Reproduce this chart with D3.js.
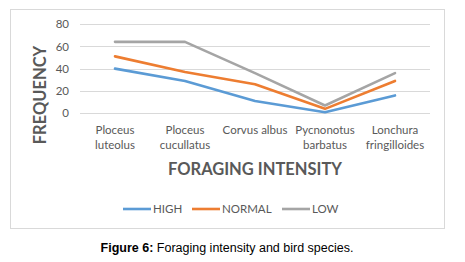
<!DOCTYPE html>
<html>
<head>
<meta charset="utf-8">
<script src="https://cdn.jsdelivr.net/npm/d3@7"></script>
<style>
  body { margin: 0; background: #fff; }
  text { font-family: Lato, "Open Sans", sans-serif; }
</style>
</head>
<body>
<script>
// Data
var species = [["Ploceus", "luteolus"], ["Ploceus", "cucullatus"], ["Corvus albus"], ["Pycnonotus", "barbatus"], ["Lonchura", "fringilloides"]];
var high = [40, 29, 11, 1, 16];
var normal = [51, 37, 26, 4, 29];
var low = [64, 64, 36, 7, 36];
var yTicks = [0, 20, 40, 60, 80];
var seriesNames = ["HIGH", "NORMAL", "LOW"];
var colors = ["#5B9BD5", "#ED7D31", "#A5A5A5"];

var W = 465, H = 262;
var svg = d3.select("body").append("svg")
    .attr("width", W)
    .attr("height", H);

// chart frame
svg.append("rect")
    .attr("x", 10.5).attr("y", 9.5)
    .attr("width", 434).attr("height", 219)
    .attr("fill", "#fff")
    .attr("stroke", "#d9d9d9");

var x = d3.scaleBand().domain(d3.range(species.length)).range([80, 430]);
var y = d3.scaleLinear().domain([0, 80]).range([113.3, 24]);

// grid lines
svg.selectAll(".grid")
    .data(yTicks)
    .enter().append("line")
    .attr("x1", 80).attr("x2", 430)
    .attr("y1", function(d) { return Math.round(y(d)) + 0.5; })
    .attr("y2", function(d) { return Math.round(y(d)) + 0.5; })
    .attr("stroke", "#d9d9d9")
    .attr("stroke-width", 1);

// y axis labels
var yAxis = svg.append("g")
    .attr("transform", "translate(80,0)")
    .call(d3.axisLeft(y).tickValues(yTicks).tickSize(0).tickPadding(11));
yAxis.select(".domain").remove();
yAxis.selectAll("text")
    .attr("fill", "#595959")
    .style("font-size", "11.5px")
    .style("font-family", "Lato, sans-serif");

// category labels
var cat = svg.selectAll(".cat")
    .data(species)
    .enter().append("text")
    .attr("text-anchor", "middle")
    .attr("fill", "#595959")
    .style("font-size", "11.5px")
    .attr("transform", function(d, i) { return "translate(" + (x(i) + x.bandwidth() / 2) + ",134)"; });
cat.selectAll("tspan")
    .data(function(d) { return d; })
    .enter().append("tspan")
    .attr("x", 0)
    .attr("y", function(d, i) { return i * 14.5; })
    .text(function(d) { return d; });

// lines
var line = d3.line()
    .x(function(d, i) { return x(i) + x.bandwidth() / 2; })
    .y(function(d) { return y(d); });

[high, normal, low].forEach(function(s, k) {
    svg.append("path")
        .datum(s)
        .attr("d", line)
        .attr("fill", "none")
        .attr("stroke", colors[k])
        .attr("stroke-width", 2.6)
        .attr("stroke-linejoin", "round")
        .attr("stroke-linecap", "round");
});

// axis titles
svg.append("text")
    .attr("x", 255).attr("y", 175)
    .attr("text-anchor", "middle")
    .attr("fill", "#595959")
    .style("font-size", "16.5px")
    .style("font-weight", "bold")
    .text("FORAGING INTENSITY");

svg.append("text")
    .attr("transform", "translate(45.5,95) rotate(-90)")
    .attr("text-anchor", "middle")
    .attr("fill", "#595959")
    .style("font-size", "16.5px")
    .style("font-weight", "bold")
    .text("FREQUENCY");

// legend
var legendX = [123, 192, 282];
var legend = svg.selectAll(".legend")
    .data(seriesNames)
    .enter().append("g")
    .attr("transform", function(d, i) { return "translate(" + legendX[i] + ",209)"; });
legend.append("line")
    .attr("x1", 0).attr("x2", 28)
    .attr("stroke", function(d, i) { return colors[i]; })
    .attr("stroke-width", 2.6);
legend.append("text")
    .attr("x", 30).attr("y", 4)
    .attr("fill", "#595959")
    .style("font-size", "11.5px")
    .text(function(d) { return d; });

// caption
var cap = svg.append("text")
    .attr("x", 227).attr("y", 252)
    .attr("text-anchor", "middle")
    .attr("fill", "#000")
    .style("font-size", "12.5px")
    .style("font-family", "'Liberation Sans', Arial, sans-serif");
cap.append("tspan").style("font-weight", "bold").text("Figure 6:");
cap.append("tspan").text(" Foraging intensity and bird species.");
</script>
</body>
</html>
